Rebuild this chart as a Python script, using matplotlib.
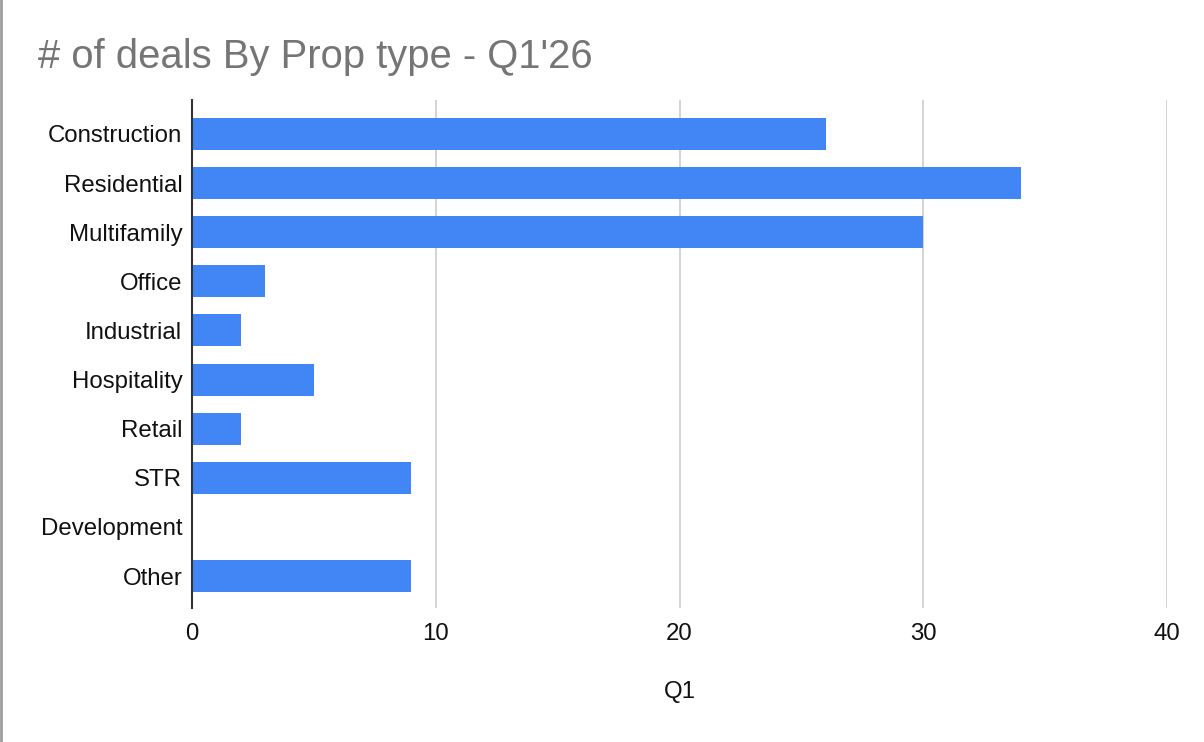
import matplotlib.pyplot as plt
from matplotlib.lines import Line2D

categories = ["Construction", "Residential", "Multifamily", "Office", "Industrial",
              "Hospitality", "Retail", "STR", "Development", "Other"]
deals = [26, 34, 30, 3, 2, 5, 2, 9, 0, 9]
x_ticks = [0, 10, 20, 30, 40]

plt.rcParams["font.family"] = ["Liberation Sans", "DejaVu Sans"]

fig = plt.figure(figsize=(12.04, 7.42), dpi=100)
W, H = 1204, 742
ax = fig.add_axes([192 / W, 1 - 608 / H, (1167 - 192) / W, (608 - 100) / H])

ax.barh(range(len(categories)), deals, height=0.65, color="#4285F4", zorder=3)

ax.set_xlim(0, 40)
ax.set_ylim(9.65, -0.69)
ax.set_xticks(x_ticks)
ax.set_yticks(range(len(categories)))
ax.set_yticklabels(categories)
ax.tick_params(length=0, labelsize=17.3, colors="#111111")
ax.tick_params(axis="x", pad=11)
ax.tick_params(axis="y", pad=7)
ax.grid(axis="x", color="#cccccc", linewidth=1.2, zorder=0)

for s in ["top", "right", "bottom"]:
    ax.spines[s].set_visible(False)
ax.spines["left"].set_color("#333333")
ax.spines["left"].set_linewidth(1.5)
ax.spines["left"].set_zorder(4)

ax.set_xlabel("Q1", fontsize=17.3, color="#111111", labelpad=26)

fig.text(38 / W, 1 - 57 / H, "# of deals By Prop type - Q1'26",
         fontsize=28.8, color="#757575", va="center", ha="left")

# left frame edge of the screenshot
fig.add_artist(Line2D([1 / W, 1 / W], [0, 1], color="#9e9e9e", linewidth=2,
                      transform=fig.transFigure))

fig.savefig("out.png", dpi=100)
